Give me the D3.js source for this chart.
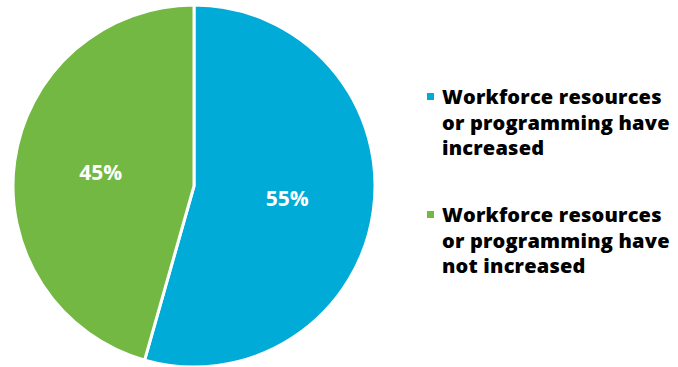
<!DOCTYPE html>
<html>
<head>
<meta charset="utf-8">
<script src="https://cdn.jsdelivr.net/npm/d3@7"></script>
<style>
  body { margin: 0; background: #fff; }
  text { font-family: "Open Sans", sans-serif; font-weight: bold; }
</style>
</head>
<body>
<script>
var categories = ["Workforce resources or programming have increased",
                  "Workforce resources or programming have not increased"],
    values = [54.4, 45.6],   // slice sizes as drawn in the picture
    pctLabels = ["55%", "45%"],
    legendLines = [["Workforce resources", "or programming have", "increased"],
                   ["Workforce resources", "or programming have", "not increased"]];

var _width = 678, _height = 367,
    _cx = 194, _cy = 186, _r = 181,
    _colors = d3.scaleOrdinal().domain(categories).range(["#00ACD7", "#72B843"]);

var svg = d3.select("body").append("svg")
    .attr("width", _width)
    .attr("height", _height);

var pie = d3.pie().sort(null).value(function(d) { return d.v; });
var arcs = pie(categories.map(function(c, i) { return {c: c, v: values[i], label: pctLabels[i]}; }));

var arc = d3.arc().innerRadius(0).outerRadius(_r);
var labelArc = d3.arc().innerRadius(_r * 0.52).outerRadius(_r * 0.52);

var pieG = svg.append("g")
    .attr("transform", "translate(" + _cx + "," + _cy + ")");

pieG.selectAll("path.slice")
    .data(arcs)
    .enter().append("path")
    .attr("class", "slice")
    .attr("d", arc)
    .style("fill", function(d) { return _colors(d.data.c); })
    .style("stroke", "#fff")
    .style("stroke-width", 3);

pieG.selectAll("text.pct")
    .data(arcs)
    .enter().append("text")
    .attr("class", "pct")
    .attr("transform", function(d) { return "translate(" + labelArc.centroid(d) + ")"; })
    .attr("text-anchor", "middle")
    .attr("dy", "0.35em")
    .style("fill", "#fff")
    .style("font-size", "21px")
    .text(function(d) { return d.data.label; });

// legend
var legend = svg.append("g").attr("class", "legend");
var item = legend.selectAll("g.item")
    .data(categories)
    .enter().append("g")
    .attr("class", "item")
    .attr("transform", function(d, i) { return "translate(427," + (104 + i * 118) + ")"; });

item.append("rect")
    .attr("x", 0)
    .attr("y", -11)
    .attr("width", 7)
    .attr("height", 7)
    .style("fill", function(d) { return _colors(d); });

item.append("text")
    .attr("x", 15)
    .style("font-size", "20px")
    .style("font-weight", "800")
    .style("letter-spacing", "0.2px")
    .style("fill", "#000")
    .selectAll("tspan")
    .data(function(d, i) { return legendLines[i]; })
    .enter().append("tspan")
    .attr("x", 15)
    .attr("dy", function(d, j) { return j === 0 ? 0 : 25.5; })
    .text(function(d) { return d; });
</script>
</body>
</html>
